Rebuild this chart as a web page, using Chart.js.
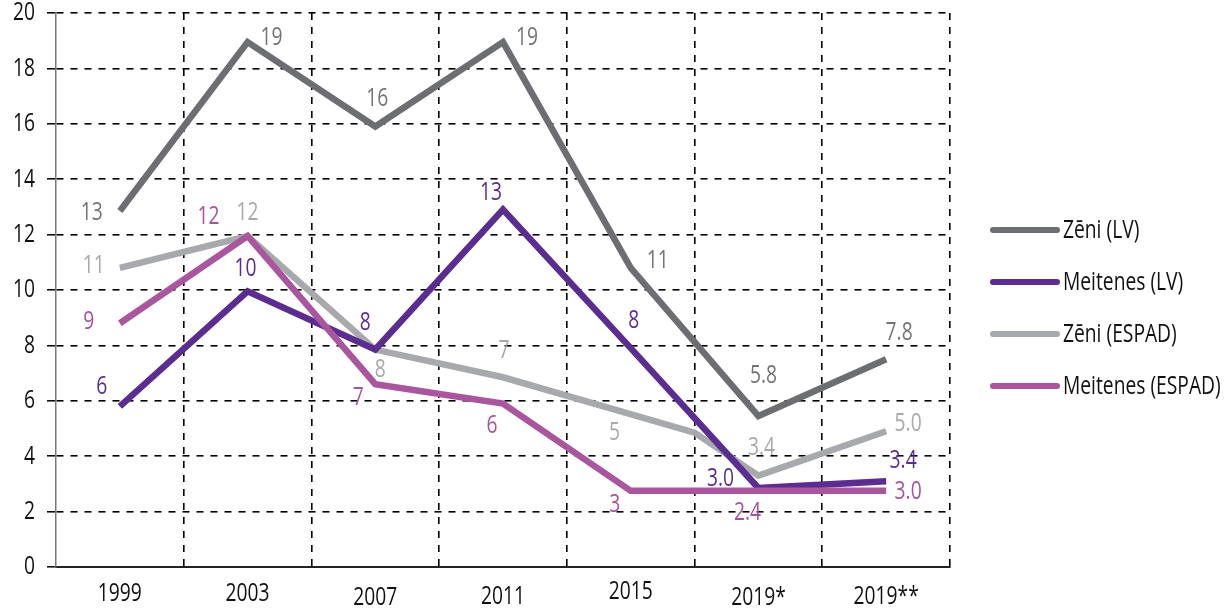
<!DOCTYPE html>
<html>
<head>
<meta charset="utf-8">
<script src="https://cdn.jsdelivr.net/npm/chart.js@4/dist/chart.umd.min.js"></script>
<style>
  html, body { margin: 0; padding: 0; background: #ffffff; }
  #wrap { width: 1226px; height: 611px; position: relative; }
</style>
</head>
<body>
<div id="wrap"><canvas id="c" width="1226" height="611"></canvas></div>
<script>
// ---- Data ----
const categories = ['1999', '2003', '2007', '2011', '2015', '2019*', '2019**'];
const seriesNames = ['Zēni (LV)', 'Meitenes (LV)', 'Zēni (ESPAD)', 'Meitenes (ESPAD)'];
const yTickValues = [0, 2, 4, 6, 8, 10, 12, 14, 16, 18, 20];

const zeniLVx = [0, 1, 2, 3, 4, 5, 6];
const zeniLV = [12.85, 18.95, 15.9, 18.95, 10.8, 5.45, 7.5];
const zeniLVLabels = ['13', '19', '16', '19', '11', '5.8', '7.8'];

const meitenesLVx = [0, 1, 2, 3, 4, 5, 6];
const meitenesLV = [5.8, 9.95, 7.85, 12.9, 7.9, 2.85, 3.1];
const meitenesLVLabels = ['6', '10', '8', '13', '8', '3.0', '3.4'];

const zeniESPADx = [0, 1, 2, 3, 4.5, 5, 6];
const zeniESPAD = [10.8, 11.95, 7.85, 6.85, 4.85, 3.3, 4.9];
const zeniESPADLabels = ['11', '12', '8', '7', '5', '3.4', '5.0'];

const meitenesESPADx = [0, 1, 2, 3, 4, 5, 6];
const meitenesESPAD = [8.8, 11.95, 6.6, 5.9, 2.75, 2.75, 2.75];
const meitenesESPADLabels = ['9', '12', '7', '6', '3', '2.4', '3.0'];

// ---- Styles ----
const FONT = "'Open Sans', 'Liberation Sans', sans-serif";
const FONT_SIZE = 26;
const SX = 0.74; // horizontal condensing of the text
const colors = ['#6d6e71', '#5c2d91', '#a7a9ac', '#a9569e'];
const labelColors = ['#737477', '#5c2d91', '#a7a9ac', '#a9529c'];
// label offsets (dx, dy) from each point, in pixels
const labelOffsets = [
  [[-28, 2], [24, -4], [2, -28], [24, -4], [27, -7], [5, -40], [13, -27]],
  [[-18, -20], [-2, -23], [-10, -27], [-12, -17], [3, -28], [-38, -9], [17, -21]],
  [[-26, -2], [0, -23], [5, 20], [1, -27], [-80, 0], [3, -28], [22, -8]],
  [[-31, -2], [-39, -19], [-17, 13], [-11, 22], [-16, 14], [-11, 22], [22, 1]]
];
const xLabelDy = [0, 0, 4, 3, -2, 4, 3];

function pts(xs, ys) { return ys.map((v, i) => ({ x: xs[i], y: v })); }
const allLabels = [zeniLVLabels, meitenesLVLabels, zeniESPADLabels, meitenesESPADLabels];

function drawText(ctx, text, x, y, align, color) {
  ctx.save();
  ctx.font = FONT_SIZE + 'px ' + FONT;
  ctx.textAlign = align;
  ctx.textBaseline = 'middle';
  ctx.fillStyle = color;
  ctx.translate(x, y);
  ctx.scale(SX, 1);
  ctx.fillText(text, 0, 0);
  ctx.restore();
}

const textPlugin = {
  id: 'texts',
  afterDatasetsDraw(chart) {
    const ctx = chart.ctx;
    chart.data.datasets.forEach((ds, di) => {
      const meta = chart.getDatasetMeta(di);
      meta.data.forEach((el, i) => {
        const off = labelOffsets[di][i];
        drawText(ctx, allLabels[di][i], el.x + off[0], el.y + off[1], 'center', labelColors[di]);
      });
    });
  },
  afterDraw(chart) {
    const ctx = chart.ctx;
    const xs = chart.scales.x, ys = chart.scales.y;
    yTickValues.forEach(v => {
      drawText(ctx, String(v), ys.right - 21, ys.getPixelForValue(v), 'right', '#111');
    });
    categories.forEach((c, i) => {
      drawText(ctx, c, xs.getPixelForValue(i), xs.top + 27 + xLabelDy[i], 'center', '#111');
    });
    const x0 = 993, x1 = 1057, tx = 1063;
    const ly = [230, 282, 334, 386];
    chart.data.datasets.forEach((ds, i) => {
      ctx.save();
      ctx.strokeStyle = colors[i];
      ctx.lineWidth = 6;
      ctx.lineCap = 'round';
      ctx.beginPath();
      ctx.moveTo(x0, ly[i]);
      ctx.lineTo(x1, ly[i]);
      ctx.stroke();
      ctx.restore();
      drawText(ctx, ds.label, tx, ly[i] + 1, 'left', '#111');
    });
  }
};

const datasets = [
  { label: seriesNames[0], data: pts(zeniLVx, zeniLV) },
  { label: seriesNames[1], data: pts(meitenesLVx, meitenesLV) },
  { label: seriesNames[2], data: pts(zeniESPADx, zeniESPAD) },
  { label: seriesNames[3], data: pts(meitenesESPADx, meitenesESPAD) }
].map((d, i) => Object.assign(d, {
  borderColor: colors[i],
  backgroundColor: colors[i],
  borderWidth: 6.5,
  pointRadius: 0,
  pointHoverRadius: 0,
  tension: 0,
  fill: false,
  xAxisID: 'xv',
  borderJoinStyle: 'miter',
  borderCapStyle: 'butt'
}));
datasets.forEach((d, i) => { d.order = [3, 1, 2, 0][i]; });

new Chart(document.getElementById('c'), {
  type: 'line',
  data: { labels: categories, datasets },
  options: {
    responsive: false,
    animation: false,
    events: [],
    layout: { padding: { top: 13, right: 276, left: 0, bottom: 0 } },
    plugins: { legend: { display: false }, tooltip: { enabled: false } },
    scales: {
      x: {
        type: 'category',
        labels: categories,
        offset: true,
        position: 'bottom',
        grid: {
          offset: true,
          color: c => (c.index === 0 ? 'rgba(0,0,0,0)' : '#000'),
          lineWidth: 1.6, drawTicks: false, tickLength: 0
        },
        border: { display: true, color: '#222', width: 2, dash: [7, 7] },
        ticks: { display: false, autoSkip: false },
        afterFit(s) { s.height = 44; }
      },
      xv: {
        type: 'linear',
        display: false,
        min: -0.5,
        max: 6.5,
        position: 'bottom'
      },
      y: {
        type: 'linear',
        min: 0,
        max: 20,
        ticks: { stepSize: 2, display: false },
        grid: {
          color: c => (c.index === 0 ? 'rgba(0,0,0,0)' : '#000'),
          lineWidth: 1.6, tickLength: 9, tickColor: '#000', tickWidth: 1.5, tickBorderDash: []
        },
        border: { display: true, color: '#7a7a7a', width: 1.5, dash: [7, 7] },
        afterFit(s) { s.width = 56; }
      }
    }
  },
  plugins: [textPlugin]
});
</script>
</body>
</html>
